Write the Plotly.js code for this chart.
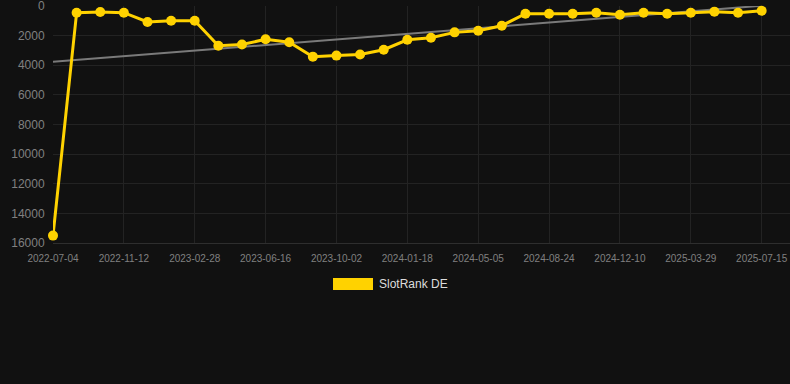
<!DOCTYPE html>
<html>
<head>
<meta charset="utf-8">
<script src="https://cdn.plot.ly/plotly-3.0.1.min.js"></script>
<style>
html,body{margin:0;padding:0;background:#111111;}
#chart{width:790px;height:384px;}
</style>
</head>
<body>
<div id="chart"></div>
<script>
const dates = [
  "2022-07-04","2022-08-17","2022-09-30","2022-11-12","2022-12-18","2023-01-23",
  "2023-02-28","2023-04-05","2023-05-11","2023-06-16","2023-07-22","2023-08-27",
  "2023-10-02","2023-11-07","2023-12-13","2024-01-18","2024-02-23","2024-03-30",
  "2024-05-05","2024-06-11","2024-07-18","2024-08-24","2024-09-29","2024-11-04",
  "2024-12-10","2025-01-15","2025-02-21","2025-03-29","2025-05-04","2025-06-09",
  "2025-07-15"
];
const rankDE = [
  15500, 450, 400, 450, 1080, 1000,
  1000, 2680, 2600, 2250, 2450, 3420,
  3350, 3270, 2950, 2280, 2140, 1780,
  1670, 1330, 520, 520, 520, 450,
  590, 450, 520, 450, 380, 450,
  320
];
const trendX = ["2022-07-04", "2025-07-15"];
const trendY = [3770, -20];
const tickLabels = ["2022-07-04","2022-11-12","2023-02-28","2023-06-16","2023-10-02",
  "2024-01-18","2024-05-05","2024-08-24","2024-12-10","2025-03-29","2025-07-15"];
const yTicks = [0,2000,4000,6000,8000,10000,12000,14000,16000];
const seriesName = "SlotRank DE";

const gold = "#FFD200";
const traces = [
  {
    x: trendX, y: trendY, type: "scatter", mode: "lines",
    line: {color: "#7a7a7a", width: 2}, hoverinfo: "skip",
    showlegend: false, cliponaxis: false
  },
  {
    x: dates, y: rankDE, type: "scatter", mode: "lines+markers",
    name: seriesName,
    line: {color: gold, width: 3},
    marker: {color: gold, size: 10},
    showlegend: false, cliponaxis: false
  }
];

const layout = {
  width: 790, height: 384,
  paper_bgcolor: "#111111", plot_bgcolor: "#111111",
  margin: {l: 53, r: 0, t: 6, b: 141},
  font: {family: "Liberation Sans, Arial, sans-serif", color: "#888888"},
  showlegend: false,
  xaxis: {
    type: "category",
    categoryorder: "array", categoryarray: dates,
    range: [0, 31.2],
    tickvals: tickLabels, ticktext: tickLabels,
    tickfont: {size: 10, color: "#808080"},
    showgrid: true, gridcolor: "#232323", gridwidth: 1,
    zeroline: false,
    showline: true, linecolor: "#2e2e2e", linewidth: 1,
    ticks: "outside", ticklen: 6, tickcolor: "rgba(0,0,0,0)"
  },
  yaxis: {
    range: [16000, 0],
    tickvals: yTicks, ticktext: yTicks.map(String),
    tickfont: {size: 12, color: "#808080"},
    ticklabeloverflow: "allow",
    showgrid: true, gridcolor: "#232323", gridwidth: 1,
    zeroline: false, showline: false,
    ticks: "outside", ticklen: 5, tickcolor: "rgba(0,0,0,0)"
  },
  shapes: [
    {type: "rect", xref: "paper", yref: "paper",
     x0: (333-53)/737, x1: (373-53)/737, y0: -0.1983, y1: -0.1477,
     fillcolor: gold, line: {width: 0}}
  ],
  annotations: [
    {xref: "paper", yref: "paper", x: (377-53)/737, y: -0.173,
     xanchor: "left", yanchor: "middle", showarrow: false,
     text: seriesName, font: {size: 12, color: "#dddddd"}}
  ]
};

Plotly.newPlot("chart", traces, layout, {displayModeBar: false, staticPlot: true});
</script>
</body>
</html>
